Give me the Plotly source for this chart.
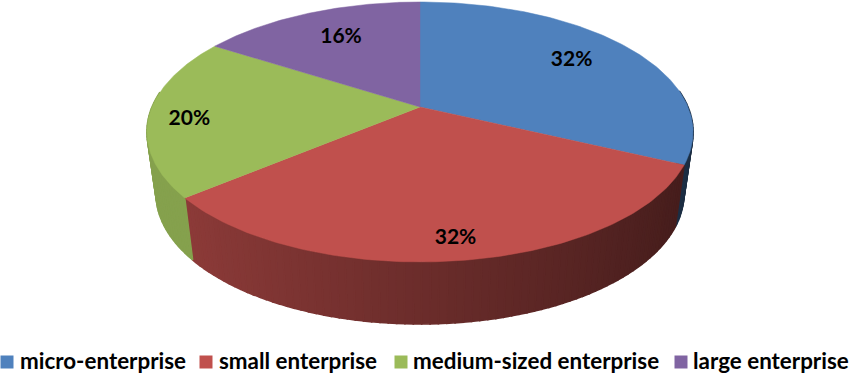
import numpy as np
import plotly.graph_objects as go

categories = ["micro-enterprise", "small enterprise", "medium-sized enterprise", "large enterprise"]
shares = [32, 32, 20, 16]
share_labels = ["32%", "32%", "20%", "16%"]
colors = [(79, 129, 189), (192, 80, 77), (155, 187, 89), (128, 100, 162)]
label_radius = [0.73, 0.88, 0.85, 0.70]
label_turn = [1.0, 0.0, 3.0, -0.7]
legend_swatch_x = [7, 206, 401, 681]
legend_text_x = [20, 219, 413, 693]

# perspective projection of a flat disc
CX, TOP_CY, BOT_CY = 420, 107, 169
TOP_A, BOT_A, B, K = 268, 259, 125.2, 0.192
LEGEND_Y = 362
STEP = 1.5


def project(theta_deg, r=1.0, a=TOP_A, cy=TOP_CY):
    t = np.radians(theta_deg)
    X, Y = r * np.cos(t), r * np.sin(t)
    den = 1 + K * Y
    return CX + a * X / den, cy - B * Y / den


def rgb(c, f=1.0):
    return "rgb({},{},{})".format(*[int(round(v * f)) for v in c])


fig = go.Figure()

# slice boundaries, clockwise from twelve o'clock
edges = 90 - np.cumsum([0] + shares) * 3.6
mids = (edges[:-1] + edges[1:]) / 2

# side wall, drawn as narrow shaded strips from the values' angle ranges
for i, c in enumerate(colors):
    start, end = edges[i], edges[i + 1]
    for a0 in np.arange(start, end, -STEP):
        a1 = max(a0 - STEP, end)
        am = (a0 + a1) / 2
        if np.sin(np.radians(am)) > 0.12:
            continue
        f = 0.56 - 0.22 * np.cos(np.radians(am))
        if i == 2:
            f = max(f, 0.86)
        x0, y0 = project(a0)
        x1, y1 = project(a1)
        x2, y2 = project(a1, a=BOT_A, cy=BOT_CY)
        x3, y3 = project(a0, a=BOT_A, cy=BOT_CY)
        col = rgb(c, f)
        fig.add_trace(go.Scatter(
            x=[x0, x1, x2, x3, x0], y=[y0, y1, y2, y3, y0], mode="lines",
            fill="toself", fillcolor=col, line=dict(color=col, width=1.6),
            showlegend=False, hoverinfo="skip"))

# top face
for i, c in enumerate(colors):
    th = np.linspace(edges[i], edges[i + 1], 120)
    x, y = project(th)
    x = np.r_[CX, x, CX]
    y = np.r_[TOP_CY, y, TOP_CY]
    fig.add_trace(go.Scatter(
        x=x, y=y, mode="lines", fill="toself", fillcolor=rgb(c),
        line=dict(color=rgb(c), width=0.5), name=categories[i],
        showlegend=False, hoverinfo="name"))

# percentage labels
lx, ly = project(mids + np.array(label_turn), r=np.array(label_radius))
fig.add_trace(go.Scatter(
    x=lx, y=ly, mode="text", text=[f"<b>{s}</b>" for s in share_labels],
    textposition="middle center",
    textfont=dict(family="Lato, Carlito, sans-serif", size=21, color="black"),
    showlegend=False, hoverinfo="skip"))

# legend row
fig.add_trace(go.Scatter(
    x=legend_swatch_x, y=[LEGEND_Y] * 4, mode="markers",
    marker=dict(symbol="square", size=13, color=[rgb(c) for c in colors]),
    showlegend=False, hoverinfo="skip"))
fig.add_trace(go.Scatter(
    x=legend_text_x, y=[LEGEND_Y + 1] * 4, mode="text",
    text=[f"<b>{n}</b>" for n in categories], textposition="middle right",
    textfont=dict(family="Lato, Carlito, sans-serif", size=22.4, color="black"),
    showlegend=False, hoverinfo="skip"))

fig.update_layout(
    width=850, height=376, margin=dict(l=0, r=0, t=0, b=0),
    paper_bgcolor="white", plot_bgcolor="white", showlegend=False,
    xaxis=dict(range=[0, 850], visible=False, fixedrange=True),
    yaxis=dict(range=[376, 0], visible=False, fixedrange=True),
)

fig.write_html("out.html", config={"displayModeBar": False},
               post_script="document.body.style.margin='0';")
